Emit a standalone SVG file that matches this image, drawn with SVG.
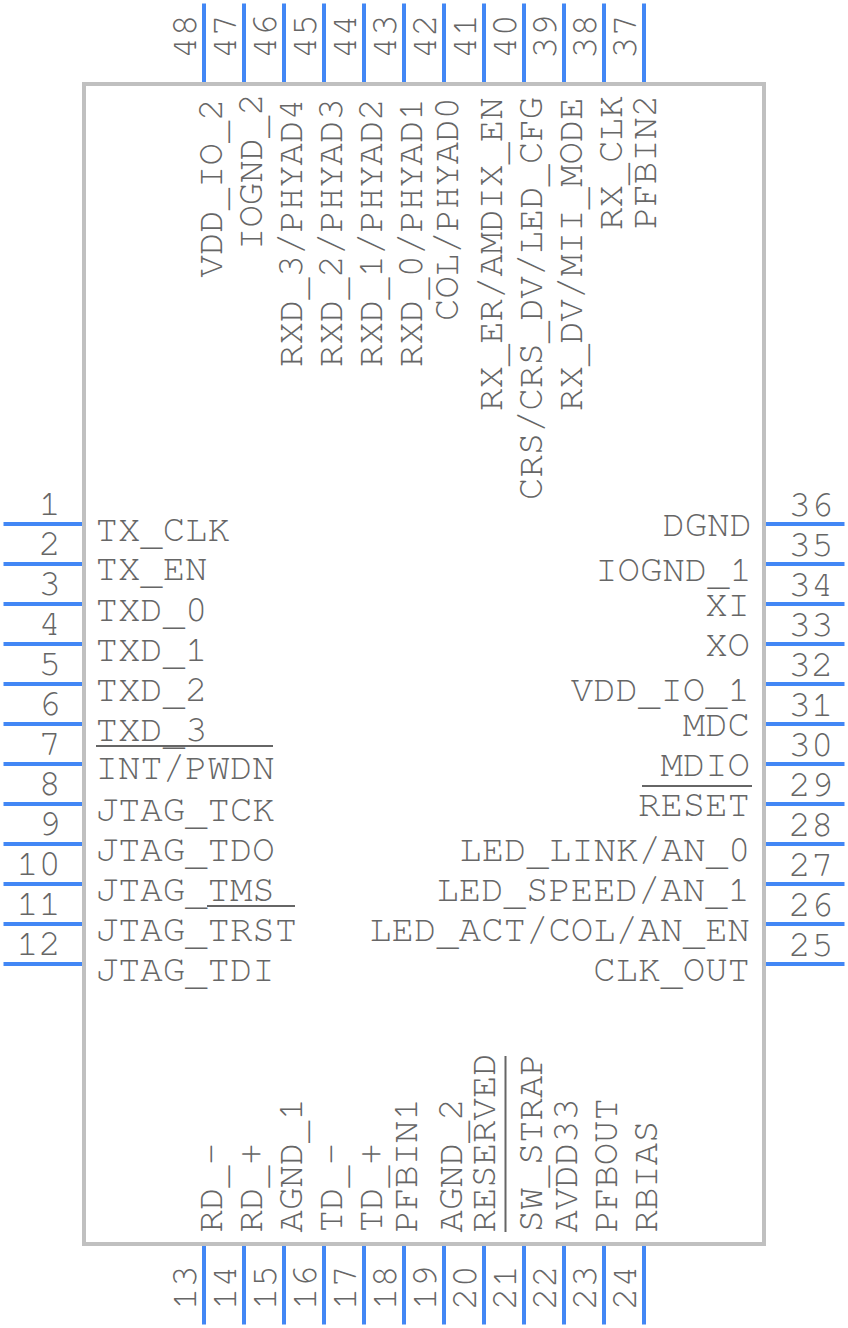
<svg xmlns="http://www.w3.org/2000/svg" width="848" height="1328" viewBox="0 0 848 1328">
<style>
text{font-family:FreeMono,"Liberation Mono",monospace;font-size:37.33px;fill:#666}
.e{text-anchor:end}
.b{fill:#fff;stroke:#c0c0c0;stroke-width:4}
.p{stroke:#4287f5;stroke-width:4;fill:none}
.o{stroke:#666;stroke-width:2;fill:none}
</style>
<g id="body"><rect class="b" x="84" y="84" width="680" height="1160"/></g>
<g id="connectors">
<path class="p" d="M3.5 524H82M3.5 564H82M3.5 604H82M3.5 644H82M3.5 684H82M3.5 724H82M3.5 764H82M3.5 804H82M3.5 844H82M3.5 884H82M3.5 924H82M3.5 964H82"/>
<path class="p" d="M766 524H844.5M766 564H844.5M766 604H844.5M766 644H844.5M766 684H844.5M766 724H844.5M766 764H844.5M766 804H844.5M766 844H844.5M766 884H844.5M766 924H844.5M766 964H844.5"/>
<path class="p" d="M204 3.5V82M244 3.5V82M284 3.5V82M324 3.5V82M364 3.5V82M404 3.5V82M444 3.5V82M484 3.5V82M524 3.5V82M564 3.5V82M604 3.5V82M644 3.5V82"/>
<path class="p" d="M204 1246V1324.5M244 1246V1324.5M284 1246V1324.5M324 1246V1324.5M364 1246V1324.5M404 1246V1324.5M444 1246V1324.5M484 1246V1324.5M524 1246V1324.5M564 1246V1324.5M604 1246V1324.5M644 1246V1324.5"/>
</g>
<g id="overbars"><path class="o" d="M96 746H273M207 906H295M642 786H752M505.5 1056V1232"/></g>
<g id="left-pins">
<text x="61" y="515" class="e">1</text><text x="95.5" y="541">TX<tspan dy="4">_</tspan><tspan dy="-4">CLK</tspan></text>
<text x="61" y="555" class="e">2</text><text x="95.5" y="580">TX<tspan dy="4">_</tspan><tspan dy="-4">EN</tspan></text>
<text x="61" y="595" class="e">3</text><text x="95.5" y="621">TXD<tspan dy="4">_</tspan><tspan dy="-4">0</tspan></text>
<text x="61" y="635" class="e">4</text><text x="95.5" y="661">TXD<tspan dy="4">_</tspan><tspan dy="-4">1</tspan></text>
<text x="61" y="675" class="e">5</text><text x="95.5" y="701">TXD<tspan dy="4">_</tspan><tspan dy="-4">2</tspan></text>
<text x="61" y="715" class="e">6</text><text x="95.5" y="741">TXD<tspan dy="4">_</tspan><tspan dy="-4">3</tspan></text>
<text x="61" y="755" class="e">7</text><text x="95.5" y="779">INT/PWDN</text>
<text x="61" y="795" class="e">8</text><text x="95.5" y="821">JTAG<tspan dy="4">_</tspan><tspan dy="-4">TCK</tspan></text>
<text x="61" y="835" class="e">9</text><text x="95.5" y="861">JTAG<tspan dy="4">_</tspan><tspan dy="-4">TDO</tspan></text>
<text x="61" y="875" class="e">10</text><text x="95.5" y="901">JTAG<tspan dy="4">_</tspan><tspan dy="-4">TMS</tspan></text>
<text x="61" y="915" class="e">11</text><text x="95.5" y="941">JTAG<tspan dy="4">_</tspan><tspan dy="-4">TRST</tspan></text>
<text x="61" y="955" class="e">12</text><text x="95.5" y="981">JTAG<tspan dy="4">_</tspan><tspan dy="-4">TDI</tspan></text>
</g>
<g id="right-pins">
<text x="788.5" y="516">36</text><text x="752" y="536" class="e">DGND</text>
<text x="788.5" y="556">35</text><text x="752" y="581" class="e">IOGND<tspan dy="4">_</tspan><tspan dy="-4">1</tspan></text>
<text x="788.5" y="596">34</text><text x="750" y="616" class="e">XI</text>
<text x="788.5" y="636">33</text><text x="750" y="656" class="e">XO</text>
<text x="788.5" y="676">32</text><text x="750" y="701" class="e">VDD<tspan dy="4">_</tspan><tspan dy="-4">IO</tspan><tspan dy="4">_</tspan><tspan dy="-4">1</tspan></text>
<text x="788.5" y="716">31</text><text x="750" y="736" class="e">MDC</text>
<text x="788.5" y="756">30</text><text x="750" y="776" class="e">MDIO</text>
<text x="788.5" y="796">29</text><text x="750" y="816" class="e">RESET</text>
<text x="788.5" y="836">28</text><text x="750.5" y="861" class="e">LED<tspan dy="4">_</tspan><tspan dy="-4">LINK/AN</tspan><tspan dy="4">_</tspan><tspan dy="-4">0</tspan></text>
<text x="788.5" y="876">27</text><text x="750" y="901" class="e">LED<tspan dy="4">_</tspan><tspan dy="-4">SPEED/AN</tspan><tspan dy="4">_</tspan><tspan dy="-4">1</tspan></text>
<text x="788.5" y="916">26</text><text x="750" y="941" class="e">LED<tspan dy="4">_</tspan><tspan dy="-4">ACT/COL/AN</tspan><tspan dy="4">_</tspan><tspan dy="-4">EN</tspan></text>
<text x="788.5" y="956">25</text><text x="750" y="981" class="e">CLK<tspan dy="4">_</tspan><tspan dy="-4">OUT</tspan></text>
</g>
<g id="top-pins">
<text transform="translate(196 59) rotate(-90)">48</text><text transform="translate(222 277.5) rotate(-90)">VDD<tspan dy="4">_</tspan><tspan dy="-4">IO</tspan><tspan dy="4">_</tspan><tspan dy="-4">2</tspan></text>
<text transform="translate(236 59) rotate(-90)">47</text><text transform="translate(262 250) rotate(-90)">IOGND<tspan dy="4">_</tspan><tspan dy="-4">2</tspan></text>
<text transform="translate(276 59) rotate(-90)">46</text><text transform="translate(302 367) rotate(-90)">RXD<tspan dy="4">_</tspan><tspan dy="-4">3/PHYAD4</tspan></text>
<text transform="translate(316 59) rotate(-90)">45</text><text transform="translate(342 367) rotate(-90)">RXD<tspan dy="4">_</tspan><tspan dy="-4">2/PHYAD3</tspan></text>
<text transform="translate(356 59) rotate(-90)">44</text><text transform="translate(382 367) rotate(-90)">RXD<tspan dy="4">_</tspan><tspan dy="-4">1/PHYAD2</tspan></text>
<text transform="translate(396 59) rotate(-90)">43</text><text transform="translate(422 367) rotate(-90)">RXD<tspan dy="4">_</tspan><tspan dy="-4">0/PHYAD1</tspan></text>
<text transform="translate(436 59) rotate(-90)">42</text><text transform="translate(458 321) rotate(-90)">COL/PHYAD0</text>
<text transform="translate(476 59) rotate(-90)">41</text><text transform="translate(502 411) rotate(-90)">RX<tspan dy="4">_</tspan><tspan dy="-4">ER/AMDIX</tspan><tspan dy="4">_</tspan><tspan dy="-4">EN</tspan></text>
<text transform="translate(516 59) rotate(-90)">40</text><text transform="translate(542 500) rotate(-90)">CRS/CRS<tspan dy="4">_</tspan><tspan dy="-4">DV/LED</tspan><tspan dy="4">_</tspan><tspan dy="-4">CFG</tspan></text>
<text transform="translate(556 59) rotate(-90)">39</text><text transform="translate(582 411) rotate(-90)">RX<tspan dy="4">_</tspan><tspan dy="-4">DV/MII</tspan><tspan dy="4">_</tspan><tspan dy="-4">MODE</tspan></text>
<text transform="translate(596 59) rotate(-90)">38</text><text transform="translate(622 230) rotate(-90)">RX<tspan dy="4">_</tspan><tspan dy="-4">CLK</tspan></text>
<text transform="translate(636 59) rotate(-90)">37</text><text transform="translate(656 229) rotate(-90)">PFBIN2</text>
</g>
<g id="bottom-pins">
<text transform="translate(196 1310) rotate(-90)">13</text><text transform="translate(222 1232.5) rotate(-90)">RD<tspan dy="4">_</tspan><tspan dy="-4">-</tspan></text>
<text transform="translate(236 1310) rotate(-90)">14</text><text transform="translate(262 1232.5) rotate(-90)">RD<tspan dy="4">_</tspan><tspan dy="-4">+</tspan></text>
<text transform="translate(276 1310) rotate(-90)">15</text><text transform="translate(302 1232.5) rotate(-90)">AGND<tspan dy="4">_</tspan><tspan dy="-4">1</tspan></text>
<text transform="translate(316 1310) rotate(-90)">16</text><text transform="translate(342 1232.5) rotate(-90)">TD<tspan dy="4">_</tspan><tspan dy="-4">-</tspan></text>
<text transform="translate(356 1310) rotate(-90)">17</text><text transform="translate(382 1232.5) rotate(-90)">TD<tspan dy="4">_</tspan><tspan dy="-4">+</tspan></text>
<text transform="translate(396 1310) rotate(-90)">18</text><text transform="translate(417 1232.5) rotate(-90)">PFBIN1</text>
<text transform="translate(436 1310) rotate(-90)">19</text><text transform="translate(462 1232.5) rotate(-90)">AGND<tspan dy="4">_</tspan><tspan dy="-4">2</tspan></text>
<text transform="translate(476 1310) rotate(-90)">20</text><text transform="translate(495 1232.5) rotate(-90)">RESERVED</text>
<text transform="translate(516 1310) rotate(-90)">21</text><text transform="translate(542 1232.5) rotate(-90)">SW<tspan dy="4">_</tspan><tspan dy="-4">STRAP</tspan></text>
<text transform="translate(556 1310) rotate(-90)">22</text><text transform="translate(577 1232.5) rotate(-90)">AVDD33</text>
<text transform="translate(596 1310) rotate(-90)">23</text><text transform="translate(617 1232.5) rotate(-90)">PFBOUT</text>
<text transform="translate(636 1310) rotate(-90)">24</text><text transform="translate(657 1232.5) rotate(-90)">RBIAS</text>
</g>
</svg>
